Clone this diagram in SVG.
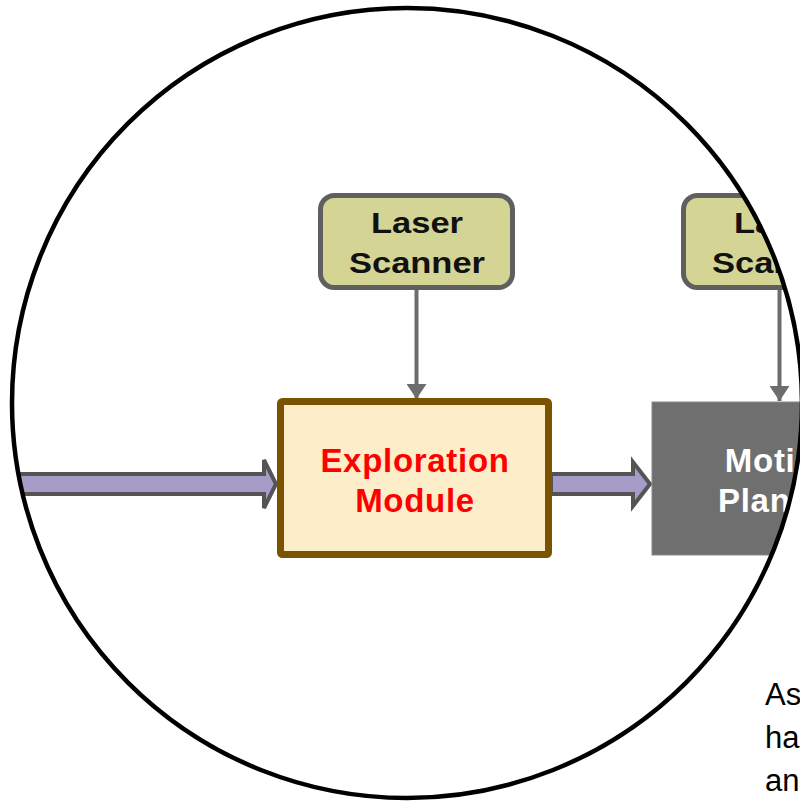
<svg xmlns="http://www.w3.org/2000/svg" width="800" height="802" viewBox="0 0 800 802">
<defs>
<clipPath id="lens"><ellipse cx="407" cy="403" rx="395" ry="395"/></clipPath>
<marker id="ah" viewBox="0 0 15 20" refX="15" refY="10" markerWidth="15" markerHeight="20" markerUnits="userSpaceOnUse" orient="auto"><path d="M0,0 L15,10 L0,20 Z" fill="#6d6d6d"/></marker>
<style>
.sensor rect{fill:#d4d495;stroke:#5f5f5f;stroke-width:5}
.sensor text{font-family:"Liberation Sans",Arial,sans-serif;font-weight:bold;font-size:30px;fill:#111;text-anchor:middle}
.thin{stroke:#6d6d6d;stroke-width:4;fill:none;marker-end:url(#ah)}
.fat{fill:#a79bc8;stroke:#545454;stroke-width:4;stroke-linejoin:miter}
.mod text{font-family:"Liberation Sans",Arial,sans-serif;font-weight:bold;font-size:33px;text-anchor:middle;letter-spacing:0.7px}
.note{font-family:"Liberation Sans",Arial,sans-serif;font-size:31px;fill:#000}
</style>
</defs>
<rect width="800" height="802" fill="#fff"/>
<g clip-path="url(#lens)">
<g id="connectors">
<path class="thin" d="M416.5,290 V399"/>
<path class="thin" d="M779.5,290 V401"/>
<path class="fat" d="M-10,474 L264,474 L264,460 L276,484 L264,508 L264,494 L-10,494 Z"/>
<path class="fat" d="M551,474 L633,474 L633,462 L650,484 L633,506 L633,494 L551,494 Z"/>
</g>
<g id="laser-scanner-1" class="sensor">
<rect x="320.5" y="195.5" width="192" height="92" rx="14"/>
<text transform="scale(1.15 1)" x="362.6" y="233">Laser</text>
<text transform="scale(1.15 1)" x="362.6" y="273">Scanner</text>
</g>
<g id="laser-scanner-2" class="sensor">
<rect x="683.5" y="195.5" width="192" height="92" rx="14"/>
<text transform="scale(1.15 1)" x="678.3" y="233">Laser</text>
<text transform="scale(1.15 1)" x="678.3" y="273">Scanner</text>
</g>
<g id="exploration-module" class="mod">
<rect x="280.5" y="401.5" width="268" height="153" rx="2" fill="#feedc9" stroke="#7a5200" stroke-width="7"/>
<text x="415" y="472" fill="#ff0000">Exploration</text>
<text x="415" y="512" fill="#ff0000">Module</text>
</g>
<g id="motion-planner" class="mod">
<rect x="652" y="402" width="258" height="153" fill="#6f6f6f" stroke="#8a8a8a" stroke-width="1"/>
<text x="781" y="472" fill="#ffffff">Motion</text>
<text x="781" y="512" fill="#ffffff">Planner</text>
</g>
</g>
<ellipse id="lens-outline" cx="407" cy="403" rx="395" ry="395" fill="none" stroke="#000" stroke-width="4.5"/>
<g id="caption">
<text class="note" x="765" y="705">As</text>
<text class="note" x="765" y="748">ha</text>
<text class="note" x="765" y="791">an</text>
</g>
</svg>
